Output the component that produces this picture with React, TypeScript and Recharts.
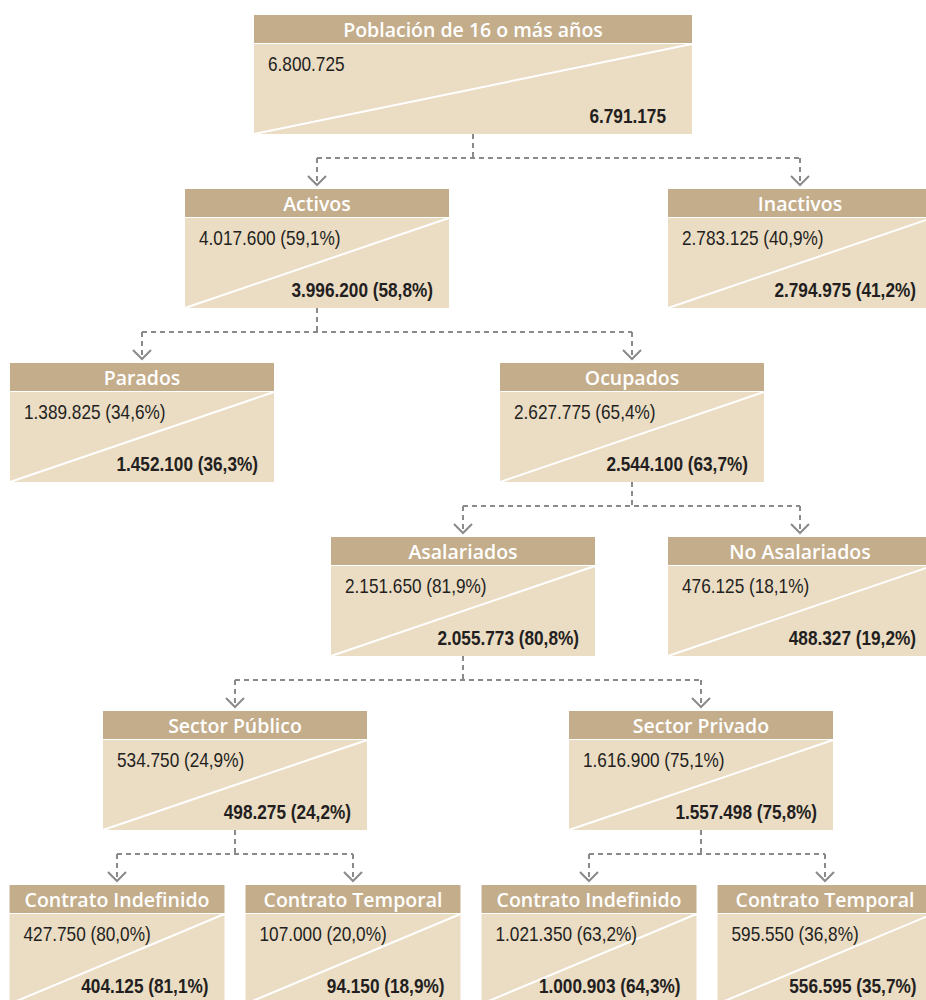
import React from "react";
import { ScatterChart, Scatter, XAxis, YAxis, ReferenceLine } from "recharts";

// ─── Data ───
const labels = [
  "Población de 16 o más años",
  "Activos",
  "Inactivos",
  "Parados",
  "Ocupados",
  "Asalariados",
  "No Asalariados",
  "Sector Público",
  "Sector Privado",
  "Contrato Indefinido",
  "Contrato Temporal",
  "Contrato Indefinido",
  "Contrato Temporal",
];

const prevValues = [
  "6.800.725",
  "4.017.600 (59,1%)",
  "2.783.125 (40,9%)",
  "1.389.825 (34,6%)",
  "2.627.775 (65,4%)",
  "2.151.650 (81,9%)",
  "476.125 (18,1%)",
  "534.750 (24,9%)",
  "1.616.900 (75,1%)",
  "427.750 (80,0%)",
  "107.000 (20,0%)",
  "1.021.350 (63,2%)",
  "595.550 (36,8%)",
];

const currValues = [
  "6.791.175",
  "3.996.200 (58,8%)",
  "2.794.975 (41,2%)",
  "1.452.100 (36,3%)",
  "2.544.100 (63,7%)",
  "2.055.773 (80,8%)",
  "488.327 (19,2%)",
  "498.275 (24,2%)",
  "1.557.498 (75,8%)",
  "404.125 (81,1%)",
  "94.150 (18,9%)",
  "1.000.903 (64,3%)",
  "556.595 (35,7%)",
];

// tree structure: depth of each node, its column in layout units, its parent
const levels = [0, 1, 1, 2, 2, 3, 3, 4, 4, 5, 5, 5, 5];
const columns = [473, 317, 800, 142, 632, 463, 800, 235, 701, 117, 353, 589, 825];
const parents = [-1, 0, 0, 1, 1, 4, 4, 5, 5, 7, 7, 8, 8];

// ─── Styling ───
const W = 926;
const H = 1000;
const ROW = 174; // px per level
const TOP = 15;
const HEAD = 28;
const BODY = 90;
const BOX = HEAD + 1 + BODY;
const GAP = 24; // box bottom -> connector bar
const HEAD_BG = "#c4ad8b";
const BODY_BG = "#ebdcc4";
const LINK = "#8a8a8a";
const TEXT = "#231f20";
const NUM_FONT = "'Liberation Sans', Arial, sans-serif";
const NUM_SQUEEZE = 0.82; // condensed look
const HEAD_FONT = "'Open Sans', 'Noto Sans', sans-serif";

const nodes = labels.map((label, i) => ({
  id: i,
  label,
  prev: prevValues[i],
  curr: currValues[i],
  level: levels[i],
  x: columns[i],
  parent: parents[i],
}));

const px = (p: number) => p / ROW;

function boxWidth(level: number) {
  if (level === 0) return 438;
  if (level === 5) return 215;
  return 264;
}

function NodeBox(props: any) {
  const { cx, cy, payload } = props;
  const w = boxWidth(payload.level);
  const left = cx - w / 2;
  const right = cx + w / 2;
  const bodyTop = cy + HEAD + 1;
  const bodyBottom = bodyTop + BODY;
  const rightPad = payload.level === 0 ? 26 : 16;
  return (
    <g>
      {payload.level > 0 && (
        <polyline
          points={`${cx - 9},${cy - 13} ${cx},${cy - 4} ${cx + 9},${cy - 13}`}
          fill="none"
          stroke={LINK}
          strokeWidth={2}
        />
      )}
      <rect x={left} y={cy} width={w} height={HEAD} fill={HEAD_BG} />
      <rect x={left} y={bodyTop} width={w} height={BODY} fill={BODY_BG} />
      <line x1={left} y1={bodyBottom} x2={right} y2={bodyTop} stroke="#fff" strokeWidth={2} />
      <text
        x={cx}
        y={cy + HEAD / 2}
        textAnchor="middle"
        dominantBaseline="central"
        fill="#fff"
        fontFamily={HEAD_FONT}
        fontWeight={600}
        fontSize={19.5}
      >
        {payload.label}
      </text>
      <text
        transform={`translate(${left + 14},${bodyTop + 20}) scale(${NUM_SQUEEZE},1)`}
        dominantBaseline="central"
        fill={TEXT}
        fontFamily={NUM_FONT}
        fontSize={21}
      >
        {payload.prev}
      </text>
      <text
        transform={`translate(${right - rightPad},${bodyTop + 72}) scale(${NUM_SQUEEZE},1)`}
        textAnchor="end"
        dominantBaseline="central"
        fill={TEXT}
        fontFamily={NUM_FONT}
        fontWeight={700}
        fontSize={21}
      >
        {payload.curr}
      </text>
    </g>
  );
}

// ─── Connectors (dashed elbows) ───
function connectorSegments() {
  const segs: { x: number; y: number }[][] = [];
  nodes.forEach((p) => {
    const kids = nodes.filter((n) => n.parent === p.id);
    if (!kids.length) return;
    const bottom = p.level + px(BOX);
    const mid = bottom + px(GAP);
    const xs = kids.map((k) => k.x);
    segs.push([{ x: p.x, y: bottom }, { x: p.x, y: mid }]);
    segs.push([{ x: Math.min(...xs), y: mid }, { x: Math.max(...xs), y: mid }]);
    kids.forEach((k) => {
      segs.push([{ x: k.x, y: mid }, { x: k.x, y: k.level - px(4) }]);
    });
  });
  return segs;
}

export default function App() {
  const segs = connectorSegments();
  return (
    <div style={{ width: W, height: H, background: "#fff" }}>
      <style>{"body{margin:0}"}</style>
      <ScatterChart width={W} height={H} margin={{ top: 0, right: 0, bottom: 0, left: 0 }}>
        <XAxis type="number" dataKey="x" domain={[0, W]} hide />
        <YAxis
          type="number"
          dataKey="level"
          domain={[-px(TOP), px(H - TOP)]}
          reversed
          hide
        />
        {segs.map((s, i) => (
          <ReferenceLine
            key={i}
            segment={s}
            stroke={LINK}
            strokeWidth={2}
            strokeDasharray="5 4"
            ifOverflow="visible"
          />
        ))}
        <Scatter data={nodes} shape={NodeBox} isAnimationActive={false} />
      </ScatterChart>
    </div>
  );
}
